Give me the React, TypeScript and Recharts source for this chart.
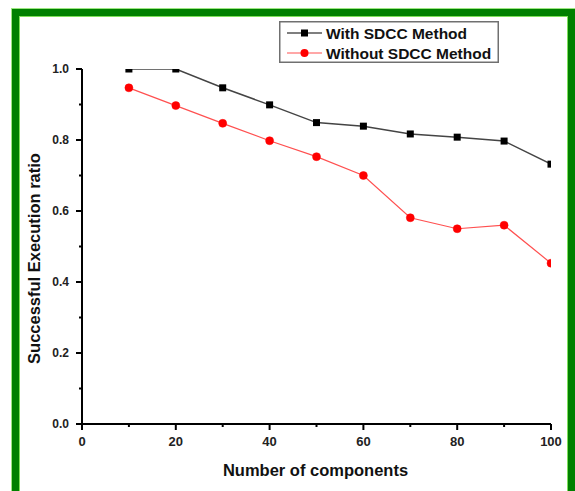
import { LineChart, Line, XAxis, YAxis, Legend, Label } from "recharts"

// values
const components = [10, 20, 30, 40, 50, 60, 70, 80, 90, 100]
const withSdcc = [1.0, 1.0, 0.947, 0.899, 0.849, 0.839, 0.817, 0.808, 0.797, 0.732]
const withoutSdcc = [0.947, 0.897, 0.847, 0.798, 0.753, 0.7, 0.581, 0.55, 0.56, 0.453]
const seriesNames = ["With SDCC Method", "Without SDCC Method"]
const xTicks = [0, 10, 20, 30, 40, 50, 60, 70, 80, 90, 100]
const yTicks = [0, 0.1, 0.2, 0.3, 0.4, 0.5, 0.6, 0.7, 0.8, 0.9, 1.0]

const chartData = components.map((c, i) => ({
  n: c,
  with: withSdcc[i],
  without: withoutSdcc[i],
}))

const FONT = '"Liberation Sans", Arial, sans-serif'

const XTick = ({ x, y, payload }: any) => {
  const major = payload.value % 20 === 0
  return (
    <g>
      <line x1={x} x2={x} y1={y} y2={y + (major ? 6 : 3)} stroke="#000" strokeWidth={2} />
      {major && (
        <text x={x} y={y + 22} textAnchor="middle" fontFamily={FONT} fontWeight="bold" fontSize={13} fill="#222">
          {payload.value}
        </text>
      )}
    </g>
  )
}

const YTick = ({ x, y, payload }: any) => {
  const major = Math.round(payload.value * 10) % 2 === 0
  return (
    <g>
      <line x1={x} x2={x - (major ? 6 : 3)} y1={y} y2={y} stroke="#000" strokeWidth={2} />
      {major && (
        <text x={x - 13} y={y} dy="0.35em" textAnchor="end" fontFamily={FONT} fontWeight="bold" fontSize={12} fill="#222">
          {payload.value.toFixed(1)}
        </text>
      )}
    </g>
  )
}

const SquareDot = (props: any) => {
  const { cx, cy, index } = props
  return <rect key={"sq" + index} x={cx - 3.5} y={cy - 3.5} width={7} height={7} fill="#000" />
}

const LegendBox = () => (
  <svg width={220} height={42} style={{ display: "block" }}>
    <rect x={0.75} y={0.75} width={218.5} height={40.5} fill="#fff" stroke="#707070" strokeWidth={1.5} />
    <line x1={8} x2={43} y1={12} y2={12} stroke="#555" strokeWidth={1.5} />
    <rect x={22} y={8.5} width={7} height={7} fill="#000" />
    <text x={47} y={17.5} fontFamily={FONT} fontWeight="bold" fontSize={15.5} fill="#111">
      {seriesNames[0]}
    </text>
    <line x1={8} x2={43} y1={32} y2={32} stroke="#ff5050" strokeWidth={1.2} />
    <circle cx={25.5} cy={32} r={4} fill="#ff0000" />
    <text x={47} y={37.5} fontFamily={FONT} fontWeight="bold" fontSize={15.5} fill="#111">
      {seriesNames[1]}
    </text>
  </svg>
)

export default function App() {
  return (
    <div style={{ position: "fixed", left: 0, top: 0, width: 575, height: 491, overflow: "hidden", background: "#fff" }}>
      <div
        style={{
          position: "absolute",
          left: 12,
          top: 9,
          width: 563,
          height: 600,
          boxSizing: "border-box",
          border: "7px solid #008000",
          boxShadow: "inset 0 0 0 1px #7ee05a, 0 0 0 1px #9be67f",
        }}
      />
      <div style={{ position: "absolute", left: 0, top: 0 }}>
        <LineChart width={575} height={491} data={chartData} margin={{ top: 69, right: 24, bottom: 37, left: 42 }}>
          <XAxis
            dataKey="n"
            type="number"
            domain={[0, 100]}
            ticks={xTicks}
            interval={0}
            allowDataOverflow
            height={30}
            tickSize={0}
            tickMargin={0}
            tickLine={false}
            tick={<XTick />}
            axisLine={{ stroke: "#000", strokeWidth: 2 }}
          >
            <Label
              content={({ viewBox }: any) => (
                <text
                  x={viewBox.x + viewBox.width / 2 - 1}
                  y={viewBox.y + 52}
                  textAnchor="middle"
                  fontFamily={FONT}
                  fontWeight="bold"
                  fontSize={16.5}
                  fill="#111"
                >
                  Number of components
                </text>
              )}
            />
          </XAxis>
          <YAxis
            type="number"
            domain={[0, 1]}
            ticks={yTicks}
            interval={0}
            allowDataOverflow
            width={40}
            tickSize={0}
            tickMargin={0}
            tickLine={false}
            tick={<YTick />}
            axisLine={{ stroke: "#000", strokeWidth: 2 }}
          >
            <Label
              content={({ viewBox }: any) => {
                const cx = viewBox.x - 8
                const cy = viewBox.y + viewBox.height / 2 + 12
                return (
                  <text
                    x={cx}
                    y={cy}
                    dy="0.35em"
                    transform={`rotate(-90 ${cx} ${cy})`}
                    textAnchor="middle"
                    fontFamily={FONT}
                    fontWeight="bold"
                    fontSize={16.5}
                    fill="#111"
                  >
                    Successful Execution ratio
                  </text>
                )
              }}
            />
          </YAxis>
          <Legend
            layout="horizontal"
            verticalAlign="middle"
            align="center"
            wrapperStyle={{ top: 21, left: 279, width: 220, height: 42 }}
            content={() => <LegendBox />}
          />
          <Line
            dataKey="with"
            name={seriesNames[0]}
            stroke="#444"
            strokeWidth={1.5}
            dot={SquareDot}
            activeDot={false}
            isAnimationActive={false}
          />
          <Line
            dataKey="without"
            name={seriesNames[1]}
            stroke="#ff5050"
            strokeWidth={1.2}
            dot={{ r: 4, fill: "#ff0000", stroke: "#ff0000", strokeWidth: 0.5 }}
            activeDot={false}
            isAnimationActive={false}
          />
        </LineChart>
      </div>
    </div>
  )
}
